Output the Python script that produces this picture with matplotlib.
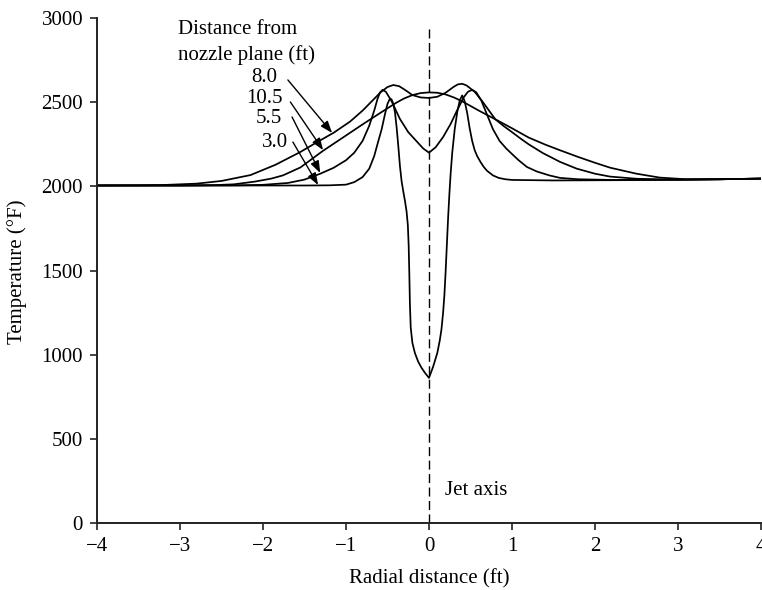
import matplotlib
matplotlib.use("Agg")
import matplotlib.pyplot as plt

plt.rcParams['font.family'] = ['Liberation Serif', 'DejaVu Serif']

# ---- data (radial distance ft, temperature °F) ----
pts_30 = [(-4.0, 2005), (-3.0, 2005), (-2.0, 2005), (-1.5, 2005), (-1.2, 2006), (-1.0, 2010),
          (-0.9, 2025), (-0.8, 2055), (-0.72, 2105), (-0.66, 2180), (-0.61, 2270), (-0.57, 2340),
          (-0.53, 2430), (-0.5, 2490), (-0.47, 2522), (-0.45, 2515), (-0.43, 2490), (-0.41, 2440),
          (-0.39, 2350), (-0.37, 2240), (-0.35, 2120), (-0.33, 2030), (-0.31, 1970), (-0.29, 1915),
          (-0.27, 1850), (-0.255, 1770), (-0.245, 1650), (-0.237, 1480), (-0.23, 1300),
          (-0.22, 1160), (-0.2, 1070), (-0.17, 1010), (-0.13, 958), (-0.09, 922), (-0.05, 893),
          (0.0, 862), (0.05, 929), (0.1, 1010), (0.13, 1085), (0.15, 1150), (0.17, 1250),
          (0.185, 1350), (0.2, 1490), (0.215, 1650), (0.23, 1810), (0.245, 1950), (0.26, 2070),
          (0.28, 2200), (0.31, 2340), (0.34, 2440), (0.37, 2510), (0.40, 2540), (0.43, 2505),
          (0.46, 2436), (0.49, 2345), (0.52, 2270), (0.55, 2215), (0.58, 2180), (0.62, 2145),
          (0.66, 2115), (0.7, 2092), (0.77, 2065), (0.84, 2050), (0.92, 2042), (1.0, 2038),
          (1.5, 2035), (2.0, 2036), (2.5, 2037), (3.0, 2039), (3.5, 2042), (4.0, 2046)]

pts_55 = [(-4.0, 2005), (-3.0, 2005), (-2.3, 2006), (-2.0, 2009), (-1.7, 2020), (-1.5, 2040),
          (-1.31, 2075), (-1.15, 2110), (-1.0, 2155), (-0.9, 2200), (-0.8, 2270), (-0.72, 2360),
          (-0.66, 2450), (-0.62, 2520), (-0.59, 2558), (-0.56, 2573), (-0.52, 2562), (-0.45, 2505),
          (-0.35, 2400), (-0.25, 2322), (-0.15, 2268), (-0.07, 2225), (0.0, 2200), (0.08, 2232),
          (0.17, 2293), (0.26, 2370), (0.34, 2453), (0.42, 2530), (0.47, 2562), (0.52, 2573),
          (0.57, 2558), (0.63, 2510), (0.7, 2425), (0.77, 2340), (0.85, 2270), (0.93, 2225),
          (1.0, 2192), (1.08, 2155), (1.18, 2115), (1.3, 2088), (1.45, 2065), (1.58, 2050),
          (1.8, 2042), (2.2, 2038), (3.0, 2039), (3.5, 2042), (4.0, 2046)]

pts_80 = [(-4.0, 2005), (-3.5, 2006), (-3.2, 2008), (-2.8, 2016), (-2.5, 2032), (-2.15, 2067),
          (-1.85, 2128), (-1.55, 2204), (-1.35, 2262), (-1.15, 2318), (-0.95, 2385), (-0.8, 2450),
          (-0.68, 2510), (-0.58, 2560), (-0.5, 2590), (-0.43, 2602), (-0.36, 2595), (-0.28, 2570),
          (-0.2, 2542), (-0.1, 2528), (0.0, 2525), (0.1, 2532), (0.2, 2556), (0.3, 2592),
          (0.35, 2606), (0.4, 2609), (0.45, 2600), (0.55, 2562), (0.65, 2500), (0.72, 2452),
          (0.8, 2398), (0.9, 2358), (1.0, 2322), (1.1, 2285), (1.2, 2250), (1.37, 2198),
          (1.58, 2145), (1.78, 2105), (2.0, 2075), (2.18, 2058), (2.5, 2045), (3.0, 2040),
          (3.5, 2042), (4.0, 2046)]

pts_105 = [(-4.0, 2005), (-3.0, 2005), (-2.6, 2007), (-2.35, 2012), (-2.1, 2028), (-1.9, 2046),
           (-1.76, 2065), (-1.55, 2112), (-1.28, 2210), (-1.0, 2302), (-0.8, 2368), (-0.6, 2432),
           (-0.4, 2495), (-0.3, 2522), (-0.2, 2542), (-0.1, 2554), (0.0, 2558), (0.1, 2556),
           (0.2, 2546), (0.3, 2528), (0.4, 2505), (0.6, 2450), (0.8, 2398), (1.0, 2345),
           (1.2, 2290), (1.4, 2248), (1.58, 2214), (1.8, 2174), (2.0, 2140), (2.18, 2111),
           (2.5, 2075), (2.78, 2052), (3.1, 2042), (3.5, 2042), (4.0, 2046)]

curves = [pts_30, pts_55, pts_80, pts_105]

labels = ["8.0", "10.5", "5.5", "3.0"]
label_pos = [(-1.99, 2620), (-1.985, 2495), (-1.93, 2376), (-1.85, 2234)]
arrow_start = [(-1.70, 2632), (-1.67, 2501), (-1.65, 2412), (-1.64, 2263)]
arrow_head = [(-1.167, 2317), (-1.276, 2215), (-1.31, 2079), (-1.336, 2008)]

x_ticks = [-4, -3, -2, -1, 0, 1, 2, 3, 4]
y_ticks = [0, 500, 1000, 1500, 2000, 2500, 3000]

# ---- figure ----
fig = plt.figure(figsize=(7.62, 5.9), dpi=100)
ax = fig.add_axes([97 / 762, 67 / 590, 664 / 762, 505 / 590])

for pts in curves:
    xs = [p[0] for p in pts]
    ts = [p[1] for p in pts]
    ax.plot(xs, ts, color='black', lw=1.25, solid_joinstyle='round')

ax.plot([0, 0], [0, 2960], color='black', lw=1.0, linestyle=(0, (6.5, 3.2)))

for lab, lp, a0, a1 in zip(labels, label_pos, arrow_start, arrow_head):
    ax.text(lp[0], lp[1], lab, ha='center', va='baseline', fontsize=15)
    ax.annotate('', xy=a1, xytext=a0,
                arrowprops=dict(arrowstyle='-|>,head_length=0.6,head_width=0.22',
                                color='black', lw=1.0, shrinkA=0, shrinkB=0,
                                mutation_scale=12))

ax.text(-3.02, 2905, "Distance from", ha='left', va='baseline', fontsize=15)
ax.text(-3.02, 2751, "nozzle plane (ft)", ha='left', va='baseline', fontsize=15)
ax.text(0.19, 166, "Jet axis", ha='left', va='baseline', fontsize=15)

ax.set_xlim(-4, 4)
ax.set_ylim(0, 3000)
ax.set_xticks(x_ticks)
ax.set_yticks(y_ticks)
ax.set_xticklabels([("\u2212%d" % abs(v)) if v < 0 else str(v) for v in x_ticks])
ax.tick_params(axis='both', direction='out', length=5, width=1.2, color='#222222',
               labelsize=15, pad=5)
for s in ['top', 'right']:
    ax.spines[s].set_visible(False)
for s in ['left', 'bottom']:
    ax.spines[s].set_linewidth(1.4)
    ax.spines[s].set_color('#222222')

fig.text(429.5 / 762, (590 - 583) / 590, "Radial distance (ft)", ha='center',
         va='baseline', fontsize=15)
fig.text(17 / 762, (590 - 272) / 590, "Temperature (\u00b0F)", ha='center',
         va='center', rotation=90, fontsize=15)

fig.savefig("out.png", dpi=100)
